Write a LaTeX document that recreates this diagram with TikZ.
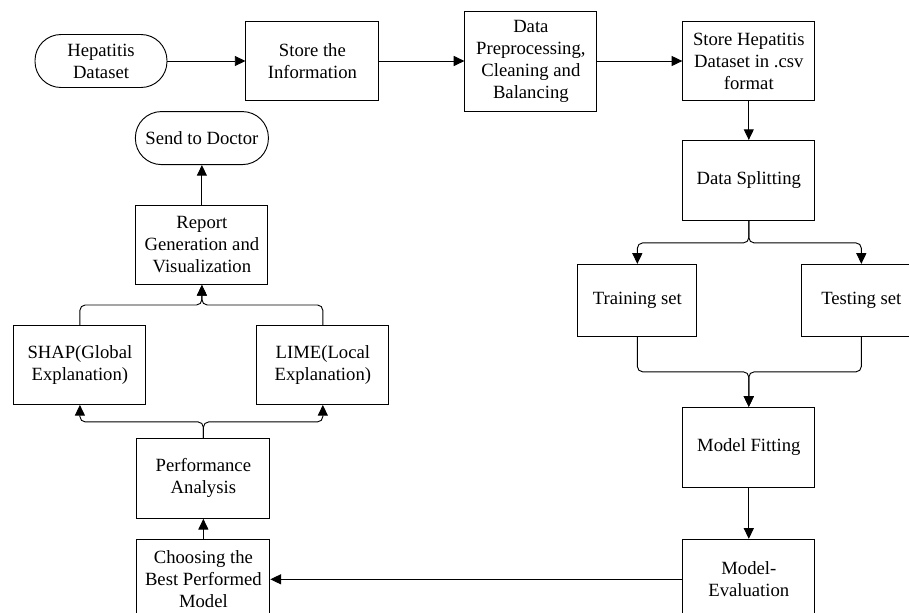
\documentclass[tikz,border=0pt]{standalone}
\usepackage{fontspec}
\setmainfont{Liberation Serif}
\usetikzlibrary{positioning,arrows.meta}

\begin{document}
\begin{tikzpicture}[
    node distance=30pt and 60pt,
    procbox/.style={draw, rectangle, line width=0.7pt, minimum height=59.25pt, minimum width=99pt, align=center, inner sep=2pt, font=\fontsize{14}{16.5}\selectfont},
    termbox/.style={draw, rectangle, line width=0.7pt, minimum height=39.75pt, minimum width=99pt, align=center, rounded corners=19.5pt, font=\fontsize{14}{16.5}\selectfont},
    flowarrow/.style={line width=0.7pt, -{Triangle[length=8pt,width=7.5pt]}, rounded corners=4pt}
]
  \useasboundingbox (-75.75pt,45.75pt) rectangle (606pt,-413.25pt);
  % Nodes
  \node (hep) [termbox] {Hepatitis\\Dataset};
  \node (store) [procbox, minimum width=99.75pt, right=58.5pt of hep] {Store the\\Information};
  \node (prep) [procbox, minimum height=75pt, right=63.75pt of store] {Data\\Preprocessing,\\Cleaning and\\Balancing};
  \node (csv) [procbox, right=63.75pt of prep] {Store Hepatitis\\Dataset in .csv\\format};
  \node (split) [procbox, minimum height=60pt, below=29.25pt of csv] {Data Splitting};

  \node (train) [procbox, minimum width=89.25pt, minimum height=54pt, below=32.25pt of split, xshift=-83.6pt] {Training set};
  \node (test) [procbox, minimum width=89.25pt, minimum height=54pt, below=32.25pt of split, xshift=84.4pt] {Testing set};
  \node (fit) [procbox, minimum height=60pt, below=139.5pt of split] {Model Fitting};
  \node (eval) [procbox, minimum height=60pt, below=38.25pt of fit] {Model-\\Evaluation};

  \node (choose) [procbox, minimum width=99.75pt, minimum height=60pt, left=309pt of eval] {Choosing the\\Best Performed\\Model};
  \node (perf) [procbox, minimum width=99.75pt, minimum height=60pt, above=15pt of choose] {Performance\\Analysis};
  \node (shap) [procbox, above=24.75pt of perf, xshift=-92.6pt] {SHAP(Global\\Explanation)};
  \node (lime) [procbox, above=24.75pt of perf, xshift=89.6pt] {LIME(Local\\Explanation)};
  \node (report) [procbox, above=30pt of shap, xshift=91.5pt] {Report\\Generation and\\Visualization};
  \node (doctor) [termbox, minimum width=99.75pt, above=30pt of report] {Send to Doctor};

  % Arrows
  \draw [flowarrow] (hep) -- (store);
  \draw [flowarrow] (store) -- (prep);
  \draw [flowarrow] (prep) -- (csv);
  \draw [flowarrow] (csv) -- (split);
  \draw [flowarrow] (split.south) -- ++(0,-16.5pt) -| (train.north);
  \draw [flowarrow] (split.south) -- ++(0,-16.5pt) -| (test.north);
  \draw [flowarrow] (train.south) -- ++(0,-26.25pt) -| (fit.north);
  \draw [flowarrow] (test.south) -- ++(0,-26.25pt) -| (fit.north);
  \draw [flowarrow] (fit) -- (eval);
  \draw [flowarrow] (eval) -- (choose);
  \draw [flowarrow] (choose) -- (perf);
  \draw [flowarrow] (perf.north) -- ++(0,12pt) -| (shap.south);
  \draw [flowarrow] (perf.north) -- ++(0,12pt) -| (lime.south);
  \draw [flowarrow] (shap.north) -- ++(0,15pt) -| (report.south);
  \draw [flowarrow] (lime.north) -- ++(0,15pt) -| (report.south);
  \draw [flowarrow] (report) -- (doctor);
\end{tikzpicture}
\end{document}
